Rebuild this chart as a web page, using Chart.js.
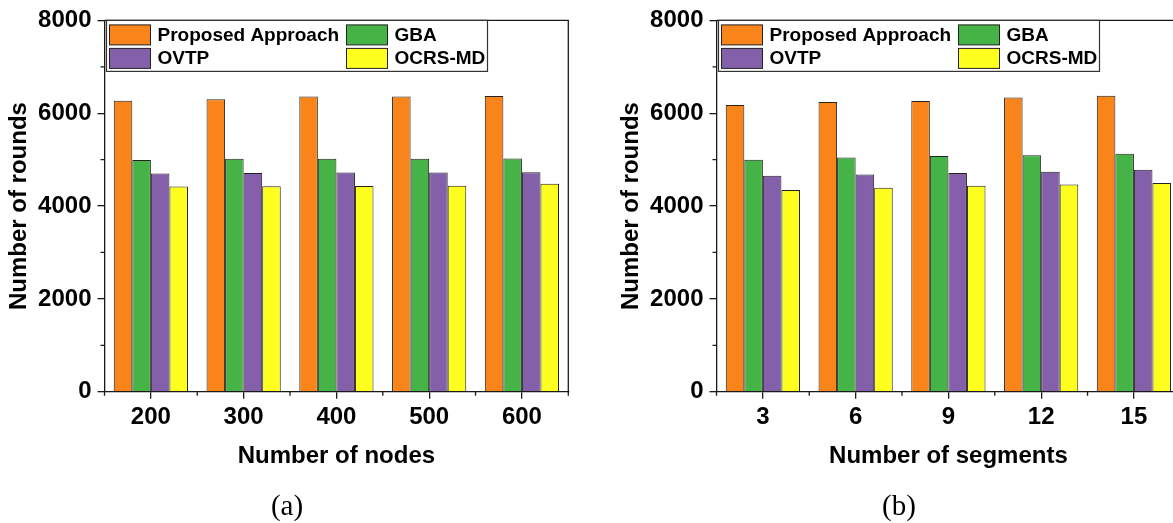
<!DOCTYPE html>
<html>
<head>
<meta charset="utf-8">
<script src="https://cdn.jsdelivr.net/npm/chart.js@4.4.0/dist/chart.umd.min.js"></script>
<style>
  body { margin: 0; width: 1173px; height: 523px; overflow: hidden; background: #fff; }
  .panel { position: absolute; top: 0; width: 590px; height: 523px; }
  .panel canvas { position: absolute; left: 0; top: 0; }
  .cap { position: absolute; left: 0; width: 574px; top: 489px; text-align: center;
         font: 29px "Liberation Serif", "Times New Roman", serif; line-height: 32px; color: #000; }
</style>
</head>
<body>
<div class="panel" style="left:0px">
  <canvas id="chartA" width="590" height="523"></canvas>
  <div class="cap">(a)</div>
</div>
<div class="panel" style="left:612px">
  <canvas id="chartB" width="590" height="523"></canvas>
  <div class="cap">(b)</div>
</div>
<script>
// (a) number of nodes
const nodeLabels = ["200", "300", "400", "500", "600"];
const proposedNodes = [6270, 6300, 6360, 6360, 6370];
const gbaNodes = [4990, 5020, 5020, 5020, 5025];
const ovtpNodes = [4700, 4710, 4725, 4725, 4730];
const ocrsNodes = [4420, 4425, 4430, 4440, 4480];

// (b) number of segments
const segmentLabels = ["3", "6", "9", "12", "15"];
const proposedSegments = [6175, 6240, 6265, 6340, 6375];
const gbaSegments = [5000, 5045, 5080, 5095, 5125];
const ovtpSegments = [4655, 4680, 4710, 4740, 4780];
const ocrsSegments = [4345, 4395, 4440, 4465, 4495];

const seriesNames = ["Proposed Approach", "GBA", "OVTP", "OCRS-MD"];
const seriesColors = ["#F9841A", "#46B347", "#8460AA", "#FFFF1F"];
const minorY = [1000, 3000, 5000, 7000];

Chart.defaults.font.family = '"Liberation Sans", Arial, sans-serif';
Chart.defaults.color = "#000";

const ink = "#1a1a1a";

// top/right frame, minor ticks and the two-column legend
const framePlugin = {
  id: "frame",
  afterDraw(chart) {
    const { ctx, chartArea: a, scales: { x, y } } = chart;
    ctx.save();
    ctx.strokeStyle = ink;
    ctx.lineWidth = 1.3;
    ctx.beginPath();
    ctx.moveTo(a.left, a.top);
    ctx.lineTo(a.right, a.top);
    ctx.lineTo(a.right, a.bottom);
    minorY.forEach((v) => {
      const py = y.getPixelForValue(v);
      ctx.moveTo(a.left - 4, py);
      ctx.lineTo(a.left, py);
    });
    for (let i = 0; i <= chart.data.labels.length; i++) {
      const px = x.getPixelForValue(i - 0.5);
      ctx.moveTo(px, a.bottom);
      ctx.lineTo(px, a.bottom + 4);
    }
    ctx.stroke();

    // legend
    const lx = a.left + 2, ly = a.top, lw = 381, lh = 51;
    ctx.fillStyle = "#fff";
    ctx.fillRect(lx, ly, lw, lh);
    ctx.lineWidth = 1.2;
    ctx.strokeStyle = "#333";
    ctx.strokeRect(lx, ly, lw, lh);
    ctx.font = 'bold 19px "Liberation Sans", Arial, sans-serif';
    ctx.textBaseline = "middle";
    ctx.textAlign = "left";
    chart.data.datasets.forEach((ds, i) => {
      const col = i % 2, row = Math.floor(i / 2);
      const sx = a.left + (col ? 242 : 5);
      const sy = a.top + (row ? 28 : 4.5);
      ctx.fillStyle = ds.backgroundColor;
      ctx.fillRect(sx, sy, 41, 20);
      ctx.strokeStyle = "#222";
      ctx.lineWidth = 1;
      ctx.strokeRect(sx, sy, 41, 20);
      ctx.fillStyle = "#000";
      ctx.fillText(ds.label, sx + 48, sy + 10.5);
    });
    ctx.restore();
  },
};

function makeChart(id, labels, series, xTitle) {
  return new Chart(document.getElementById(id), {
    type: "bar",
    data: {
      labels: labels,
      datasets: series.map((values, i) => ({
        label: seriesNames[i],
        data: values,
        backgroundColor: seriesColors[i],
        borderColor: "#222",
        borderWidth: 1,
        categoryPercentage: 0.8,
        barPercentage: 1.0,
      })),
    },
    options: {
      responsive: false,
      animation: false,
      layout: { padding: { top: 18, right: 21.7, left: 0, bottom: 0 } },
      plugins: { legend: { display: false }, tooltip: { enabled: false } },
      scales: {
        x: {
          grid: { drawOnChartArea: false, offset: false, tickLength: 7, color: ink, lineWidth: 1.3 },
          border: { color: ink, width: 1.3 },
          ticks: { font: { size: 24, weight: "bold" }, padding: 4, maxRotation: 0 },
          title: { display: true, text: xTitle, font: { size: 24, weight: "bold" }, padding: { bottom: 52 } },
          afterFit(scale) { scale.height = 131.3; },
        },
        y: {
          min: 0,
          max: 8000,
          grid: { drawOnChartArea: false, tickLength: 7, color: ink, lineWidth: 1.3 },
          border: { color: ink, width: 1.3 },
          ticks: { stepSize: 2000, font: { size: 24, weight: "bold" }, padding: 6,
                   callback: (v) => String(v) },
          title: { display: true, text: "Number of rounds", font: { size: 24, weight: "bold" }, padding: { top: 5 } },
          afterFit(scale) { scale.width = 104.5; },
        },
      },
    },
    plugins: [framePlugin],
  });
}

makeChart("chartA", nodeLabels, [proposedNodes, gbaNodes, ovtpNodes, ocrsNodes], "Number of nodes");
makeChart("chartB", segmentLabels, [proposedSegments, gbaSegments, ovtpSegments, ocrsSegments], "Number of segments");
</script>
</body>
</html>
